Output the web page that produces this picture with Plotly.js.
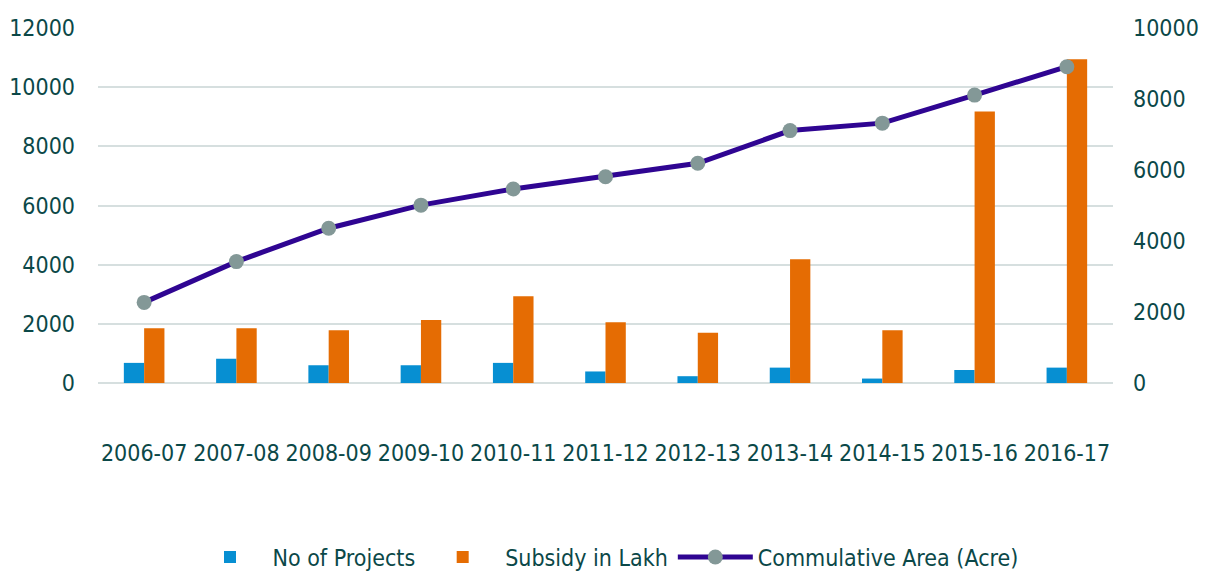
<!DOCTYPE html>
<html>
<head>
<meta charset="utf-8">
<script src="https://cdn.plot.ly/plotly-3.0.1.min.js"></script>
<style>html,body{margin:0;padding:0;background:#fff;}#chart{width:1216px;height:579px;}</style>
</head>
<body>
<div id="chart"></div>
<script>
const years = ["2006-07","2007-08","2008-09","2009-10","2010-11","2011-12","2012-13","2013-14","2014-15","2015-16","2016-17"];
const projects = [680, 820, 600, 600, 680, 390, 230, 520, 150, 440, 520];
const subsidy = [1850, 1850, 1780, 2130, 2930, 2050, 1700, 4180, 1780, 9180, 10940];
const cumArea = [2270, 3420, 4360, 5010, 5465, 5810, 6190, 7110, 7320, 8110, 8910];
const leftTicks = [0, 2000, 4000, 6000, 8000, 10000, 12000];
const rightTicks = [0, 2000, 4000, 6000, 8000, 10000];

const FONT = "'Liberation Sans Narrow', 'DejaVu Sans Condensed', 'Arial Narrow', sans-serif";
const TXT = "#0b4848";
const GRID = "#d6dfdf";

const data = [
  {type:"bar", name:"No of Projects", x:years, y:projects, marker:{color:"#078fd2"}, yaxis:"y"},
  {type:"bar", name:"Subsidy in Lakh", x:years, y:subsidy, marker:{color:"#e56c03"}, yaxis:"y"},
  {type:"scatter", mode:"lines+markers", name:"Commulative Area (Acre)", x:years, y:cumArea, yaxis:"y2",
   line:{color:"#2f0592", width:5}, marker:{color:"#839897", size:15, symbol:"circle"}}
];

const layout = {
  width:1216, height:579,
  margin:{l:98, r:103, t:28, b:196},
  paper_bgcolor:"#fff", plot_bgcolor:"#fff",
  font:{family:FONT, color:TXT, size:23},
  barmode:"group", bargap:0.56, bargroupgap:0,
  showlegend:true,
  legend:{orientation:"h", x:0.5, xanchor:"center", yref:"container", y:0.038, yanchor:"middle",
          font:{family:FONT, size:23, color:TXT}, traceorder:"normal", itemwidth:75},
  xaxis:{type:"category", range:[-0.5, 10.5], tickvals:years, ticktext:years, showgrid:false, showline:false, zeroline:false,
         ticks:"", tickangle:0, ticklabelstandoff:54, tickfont:{family:FONT, size:23, color:TXT}, automargin:false},
  yaxis:{range:[0,12000], tickvals:leftTicks, ticktext:leftTicks.map(String), showgrid:true, gridcolor:GRID, gridwidth:2,
         zeroline:true, zerolinecolor:GRID, zerolinewidth:2, showline:false, ticks:"",
         ticklabelstandoff:22, tickfont:{family:FONT, size:23, color:TXT}, automargin:false},
  yaxis2:{range:[0,10000], tickvals:rightTicks, ticktext:rightTicks.map(String), overlaying:"y", side:"right",
          showgrid:false, zeroline:false, showline:false, ticks:"", ticklabelstandoff:19,
          tickfont:{family:FONT, size:23, color:TXT}, automargin:false}
};

Plotly.newPlot("chart", data, layout, {displayModeBar:false, staticPlot:true});
</script>
</body>
</html>
